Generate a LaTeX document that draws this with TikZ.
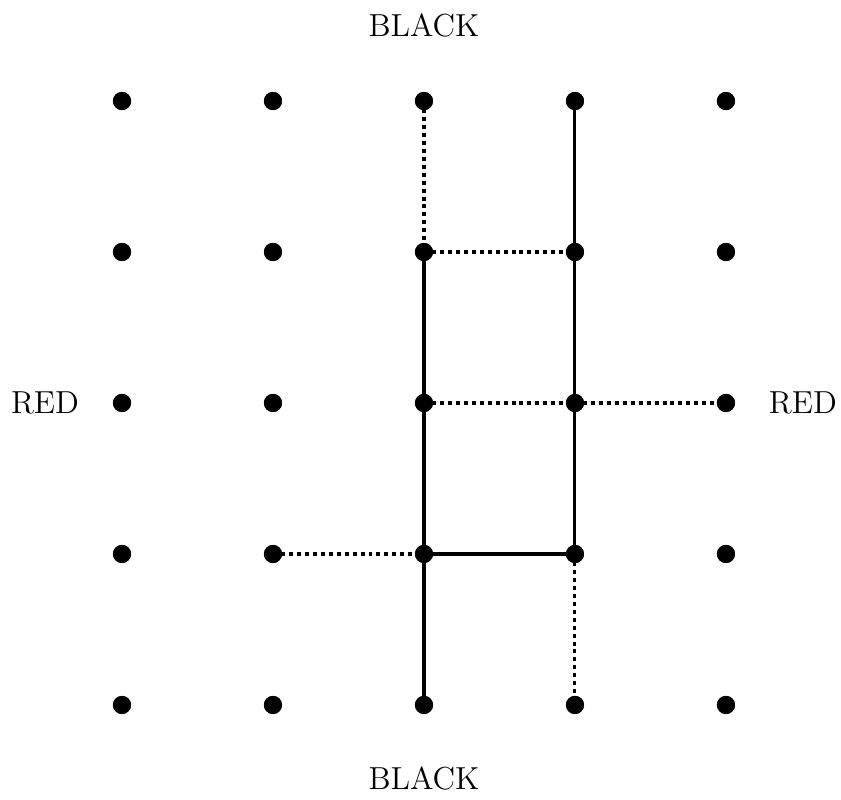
\documentclass[tikz,border=0pt]{standalone}
\begin{document}
\begin{tikzpicture}[x=2cm,y=2cm,
  dot/.style={circle,fill=black,inner sep=0pt,minimum size=0.24cm},
  lab/.style={font=\large},
  solidl/.style={line width=1.15pt},
  dotl/.style={line width=1.15pt,dash pattern=on 1.5pt off 1.5pt}]
\useasboundingbox (-0.808,-0.629) rectangle (4.762,4.669);
\foreach \i in {0,...,4}{
  \foreach \j in {0,...,4}{
    \node[dot] (n\i\j) at (\i,\j) {};
  }
}
\node[lab] (bt) at (2,4.503) {BLACK};
\node[lab] (bb) at (2,-0.49) {BLACK};
\node[lab] (rl) at (-0.51,2) {RED};
\node[lab] (rr) at (4.51,2) {RED};
% solid
\draw[solidl] (n23.center) -- (n20.center);
\draw[solidl] (n34.center) -- (n31.center);
\draw[solidl] (n21.center) -- (n31.center);
% dotted
\draw[dotl] (n24.center) -- (n23.center);
\draw[dotl] (n23.center) -- (n33.center);
\draw[dotl] (n22.center) -- (n32.center);
\draw[dotl] (n32.center) -- (n42.center);
\draw[dotl] (n11.center) -- (n21.center);
\draw[dotl] (n31.center) -- (n30.center);
\foreach \i in {0,...,4}{
  \foreach \j in {0,...,4}{
    \fill (n\i\j) circle (0.06);
  }
}
\end{tikzpicture}
\end{document}
